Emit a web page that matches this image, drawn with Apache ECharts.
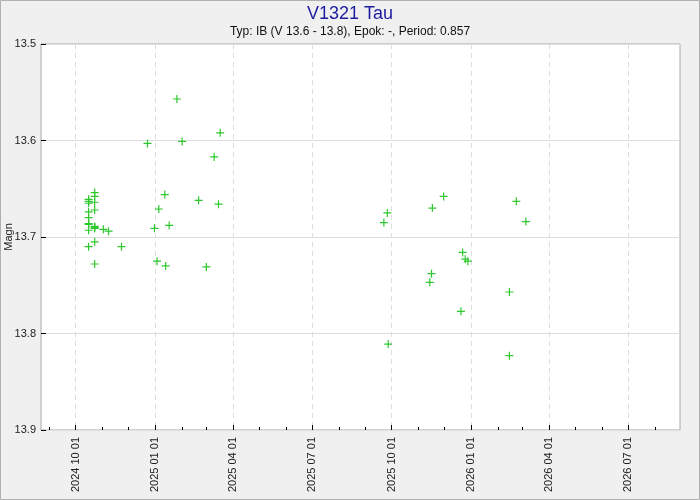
<!DOCTYPE html>
<html>
<head>
<meta charset="utf-8">
<script src="https://cdn.jsdelivr.net/npm/echarts@6/dist/echarts.min.js"></script>
<style>
html,body{margin:0;padding:0;background:#f0f0f0;}
#c{width:700px;height:500px;}
</style>
</head>
<body>
<div id="c"></div>
<script>
var titleText = 'V1321 Tau';
var subtitleText = 'Typ: IB (V 13.6 - 13.8), Epok: -, Period: 0.857';
var yAxisName = 'Magn';

var obsDates = [
  '2024-10-16','2024-10-16','2024-10-16','2024-10-16','2024-10-16','2024-10-16','2024-10-16','2024-10-16','2024-10-16',
  '2024-10-23','2024-10-23','2024-10-23','2024-10-23','2024-10-23','2024-10-23','2024-10-23','2024-10-23','2024-10-23',
  '2024-11-02','2024-11-08','2024-11-23','2024-12-23','2024-12-31','2025-01-03','2025-01-05','2025-01-12','2025-01-13',
  '2025-01-17','2025-01-26','2025-02-01','2025-02-20','2025-03-01','2025-03-10','2025-03-15','2025-03-17',
  '2025-09-22','2025-09-26','2025-09-27','2025-11-14','2025-11-16','2025-11-17','2025-11-30',
  '2025-12-20','2025-12-22','2025-12-25','2025-12-28','2026-02-14','2026-02-14','2026-02-22','2026-03-05'
];
var obsMags = [
  13.661,13.663,13.665,13.674,13.680,13.686,13.687,13.693,13.710,
  13.654,13.658,13.664,13.672,13.689,13.690,13.691,13.705,13.728,
  13.692,13.694,13.710,13.603,13.691,13.725,13.671,13.656,13.730,
  13.688,13.557,13.601,13.662,13.731,13.617,13.666,13.592,
  13.685,13.675,13.811,13.747,13.738,13.670,13.658,
  13.777,13.716,13.723,13.725,13.757,13.823,13.663,13.684
];

var xMinDate = '2024-08-22';
var xMaxDate = '2026-08-30';
var majorTickDates = ['2024-10-01','2025-01-01','2025-04-01','2025-07-01','2025-10-01','2026-01-01','2026-04-01','2026-07-01'];
var minorTickDates = ['2024-09-01','2024-11-01','2024-12-01','2025-02-01','2025-03-01','2025-05-01','2025-06-01',
  '2025-08-01','2025-09-01','2025-11-01','2025-12-01','2026-02-01','2026-03-01','2026-05-01','2026-06-01','2026-08-01'];
var yMin = 13.5, yMax = 13.9, yStep = 0.1;

function ts(s){ var p = s.split('-').map(Number); return Date.UTC(p[0], p[1]-1, p[2]); }
function pad(n){ return (n<10?'0':'') + n; }
function fmt(v){ var d = new Date(v); return d.getUTCFullYear() + ' ' + pad(d.getUTCMonth()+1) + ' ' + pad(d.getUTCDate()); }

var points = obsDates.map(function(d,i){ return [ts(d), obsMags[i]]; });
var font = 'Liberation Sans, Arial, sans-serif';

var chart = echarts.init(document.getElementById('c'));
chart.setOption({
  backgroundColor: '#f0f0f0',
  animation: false,
  textStyle: {fontFamily: font},
  title: [
    {text: titleText, left: 'center', top: 0, textStyle: {fontFamily: font, fontSize: 18, fontWeight: 'normal', color: '#1c1ca0'}},
    {text: subtitleText, left: 'center', top: 21, textStyle: {fontFamily: font, fontSize: 12, fontWeight: 'normal', color: '#111'}}
  ],
  graphic: [{type: 'rect', shape: {x: 0.5, y: 0.5, width: 699, height: 499}, style: {fill: 'none', stroke: '#b0b0b0', lineWidth: 1}, silent: true}],
  grid: {left: 41, right: 20, top: 44, bottom: 70, containLabel: false, outerBoundsMode: 'none', show: true, backgroundColor: '#fff', borderColor: '#aaaaaa', borderWidth: 1},
  xAxis: [
    {
      type: 'value', min: ts(xMinDate), max: ts(xMaxDate), position: 'bottom',
      axisLine: {show: false},
      axisTick: {show: true, inside: true, length: 5, customValues: majorTickDates.map(ts), lineStyle: {color: '#000'}},
      axisLabel: {show: true, rotate: 90, margin: 7, fontSize: 11, color: '#222', fontFamily: font, customValues: majorTickDates.map(ts), formatter: fmt},
      splitLine: {show: true, lineStyle: {color: '#dddddd', type: [5,4], width: 1}}
    },
    {
      type: 'value', min: ts(xMinDate), max: ts(xMaxDate), position: 'bottom',
      axisLine: {show: false},
      axisTick: {show: true, inside: true, length: 3, customValues: minorTickDates.map(ts), lineStyle: {color: '#000'}},
      axisLabel: {show: false},
      splitLine: {show: false}
    }
  ],
  yAxis: {
    type: 'value', min: yMin, max: yMax, interval: yStep, inverse: true,
    name: yAxisName, nameLocation: 'middle', nameGap: 27, nameMoveOverlap: false,
    nameTextStyle: {fontSize: 11, color: '#222', fontFamily: font},
    axisLine: {show: false},
    axisTick: {show: true, inside: true, length: 5, lineStyle: {color: '#000'}},
    axisLabel: {fontSize: 11, color: '#222', margin: 5, fontFamily: font, formatter: function(v){ return v.toFixed(1); }},
    splitLine: {show: true, lineStyle: {color: '#dddddd', width: 1}}
  },
  series: [{
    type: 'scatter', xAxisIndex: 0, data: points,
    symbol: 'path://M0,5 L10,5 M5,0 L5,10', symbolSize: 8,
    itemStyle: {color: 'rgba(0,0,0,0)', borderColor: '#2ec82e', borderWidth: 1.2, opacity: 1}
  }]
});
</script>
</body>
</html>
